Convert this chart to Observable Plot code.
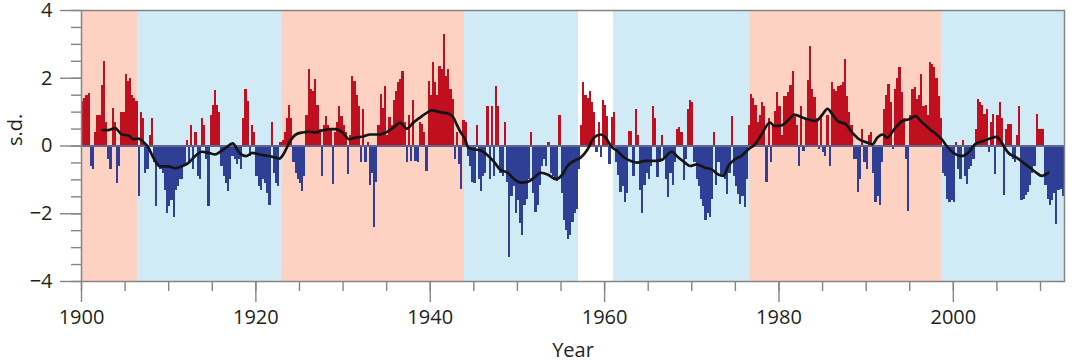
<!DOCTYPE html>
<html>
<head>
<meta charset="utf-8">
<script src="https://cdn.jsdelivr.net/npm/d3@7"></script>
<script src="https://cdn.jsdelivr.net/npm/@observablehq/plot@0.6"></script>
<style>
  html, body { margin: 0; padding: 0; background: #fff; }
</style>
</head>
<body>
<div id="chart"></div>
<script>
// Quarterly index values (s.d.), each chunk starts at the given year, step 0.25 yr
const pdo1900 = [
  1.3, 1.4, 1.5, 1.55,   -0.6, -0.7, 0.4, 0.9,   0.9, 1.8, 2.5, 0.7,   -0.4, -0.7, 1.1, 0.7,
  -1.1, -0.6, 1.0, 1.0,  2.1, 1.9, 2.0, 1.5,     1.4, 1.3, -1.5, 1.0,  0.8, -0.8, -0.7, 0.3,
  0.8, -0.5, -1.8, -0.6, -0.7, -0.8, -1.3, -2.0, -1.8, -1.6, -2.1, -1.3, -1.2, -1.0, -1.0, -0.6,
  0.15, -0.5, 0.6, -0.7, 0.4, -0.9, -1.0, 0.8,   0.6, -0.4, -1.8, 0.9,  1.2, 1.65, 1.2, 1.0
];
const pdo1916 = [
  -0.6, -0.9, -1.1, -1.35, -1.0, -0.3, -0.4, -0.55, -0.4, -0.7, 0.8, 1.67, 1.3, -0.3, 0.6, 0.4,
  -0.9, -1.2, -1.3, -1.0,  -1.1, -1.4, -1.75, 0.7,  -0.8, -1.1, -1.2, 0.1,  0.15, 0.4, 0.8, 1.2,
  0.8, -0.5, -0.8, -1.0,   -1.1, -1.35, -0.9, 0.9,  2.25, 1.67, 1.6, 1.95,  1.2, 0.5, -0.9, 0.6,
  0.88, 0.6, 0.5, -1.13,   0.4, 0.7, 1.18, 0.88,    0.6, 0.4, -0.84, 0.3,   2.06, 1.9, 1.5, 1.18
];
const pdo1932 = [
  -0.5, 1.08, -0.5, 0.1,   -1.18, -0.8, -2.41, -1.08, 0.6, 1.52, 1.1, 1.77, 0.3, 0.84, 0.6, 1.33,
  1.6, 1.87, 1.97, 2.2,    0.7, -0.5, 0.9, -0.45,    1.33, -0.45, -0.5, 0.7, 0.64, 0.4, -0.74, 1.9,
  1.5, 2.46, 1.87, 1.5,    2.36, 2.26, 3.29, 2.06,   2.26, 1.67, 1.38, -0.4, 0.4, -0.55, -1.28, 0.74,
  0.7, -0.3, -0.6, -1.08,  -1.1, 0.6, -1.0, -1.33,   -0.9, -0.8, 1.18, -1.0, 1.18, -0.9, 1.77, 1.18
];
const pdo1948 = [
  -0.8, -0.9, 0.7, -1.08,  -3.3, -1.5, -1.2, -2.0,   -1.6, -2.3, -2.65, -1.77, -1.57, -1.0, 0.4, -1.4,
  -1.97, -1.77, -1.18, -0.6, -0.4, -0.6, 0.1, -0.8,  -0.9, -1.0, -1.05, 0.9,  -1.4, -2.2, -2.5, -2.75,
  -2.65, -2.26, -2.0, -1.87, -0.7, 0.6, 1.87, 1.5,   1.4, 1.62, 1.28, 1.0,    -0.2, 0.7, -0.35, 1.33,
  1.2, 0.88, -0.55, 0.84,  1.0, -0.5, -0.88, -1.38,  -1.2, -1.67, -1.4, 0.44, 0.44, -0.9, 1.08, 0.3
];
const pdo1964 = [
  -1.3, -2.0, -1.18, -0.8, -1.0, -0.6, 1.18, 0.8,   -0.94, -0.5, 0.3, -0.4,  -1.0, -1.52, -0.8, -1.18,
  -0.5, 0.5, 0.54, 0.4,    -1.03, -0.4, 1.08, 1.33,  1.28, -0.5, -1.0, -1.2,  -1.57, -1.8, -2.2, -2.0,
  -2.1, -1.57, 0.4, -1.18, -0.5, -0.84, -0.9, -1.0,  -1.43, -0.8, 0.88, -0.9, -1.2, -1.43, -1.72, -1.5,
  -1.82, -1.0, 0.6, 1.52,  1.4, 1.2, 0.7, 0.9,       1.28, 1.18, -1.08, 0.8,  -0.5, 0.6, 1.03, 1.57
];
const pdo1980 = [
  1.18, 0.3, 1.47, 1.47,   1.57, 1.8, 2.2, 0.88,     0.6, -0.6, 1.18, -0.15,  0.8, 1.92, 2.95, 1.67,
  1.43, 0.8, -0.1, 0.84,   -0.2, -0.3, 0.9, -0.6,    1.87, 1.67, 1.6, 1.77,   1.8, 1.87, 2.56, 1.47,
  1.0, 0.6, -0.4, -0.4,    -1.38, -1.0, 0.5, -0.5,   -0.7, 0.3, 0.4, -0.8,    -1.67, -1.5, -1.77, -0.5,
  1.08, 1.5, 1.82, 1.28,   -0.1, 1.67, 2.0, 2.31,    1.57, 0.8, -0.4, -1.92,  0.9, 1.67, 1.72, 1.38
];
const pdo1996 = [
  1.5, 2.1, 1.18, 1.2,     0.9, 2.46, 2.4, 2.31,     2.0, 1.47, 0.8, -0.8,    -0.9, -1.57, -1.67, -1.6,
  -1.67, 0.1, -0.7, -1.0,  0.15, -0.9, -1.13, -0.7,  -0.6, -0.4, 0.5, 1.38,   1.28, 1.2, 0.93, 1.08,
  -0.2, 0.7, 0.93, -0.84,  0.9, 1.28, 0.8, -1.47,    0.5, 0.64, 0.64, -0.4,   -0.5, 0.3, 1.18, -1.62,
  -1.57, -1.45, -1.38, -1.18, -0.8, -0.6, 0.93, 0.5, 0.5, 0.5, -1.18, -1.57,  -1.77, -1.6, -1.4, -2.31,
  -1.3, -1.28, -1.5
];
const chunkStarts = [1900, 1916, 1932, 1948, 1964, 1980, 1996];
const chunks = [pdo1900, pdo1916, pdo1932, pdo1948, pdo1964, pdo1980, pdo1996];
const step = 0.25;

// Smoothed (running mean) line
const smoothYears = [
  1902.4, 1903.1, 1903.86, 1904.62, 1905.39, 1905.96, 1906.53, 1907.1, 1907.68, 1908.25, 1909.0, 1909.97,
  1910.73, 1911.5, 1912.26, 1913.02, 1913.79, 1914.55, 1915.3, 1916.0, 1916.57, 1917.34, 1918.1, 1918.86,
  1919.63, 1920.39, 1921.16, 1921.92, 1922.68, 1923.26, 1923.83, 1924.59, 1925.36, 1926.12, 1926.88, 1927.65,
  1928.41, 1929.17, 1929.94, 1930.7, 1931.46, 1932.3, 1933.1, 1934.25, 1935.0, 1935.78, 1936.54, 1937.3,
  1938.07, 1938.83, 1939.6, 1940.17, 1941.12, 1942.08, 1942.65, 1943.03, 1943.41, 1943.99, 1944.37, 1944.94,
  1945.7, 1946.47, 1947.23, 1948.0, 1948.87, 1949.64, 1950.4, 1951.16, 1951.93, 1952.69, 1953.46, 1954.41,
  1955.17, 1955.75, 1956.51, 1957.27, 1958.04, 1958.8, 1959.56, 1960.14, 1960.71, 1961.47, 1962.24, 1963.0,
  1963.76, 1964.6, 1965.79, 1966.55, 1967.7, 1968.46, 1969.22, 1969.8, 1970.56, 1971.51, 1972.28, 1973.04,
  1973.61, 1974.19, 1974.95, 1975.71, 1976.48, 1977.24, 1978.0, 1978.96, 1979.53, 1980.3, 1981.17, 1981.75,
  1982.7, 1984.23, 1984.99, 1985.56, 1986.14, 1986.71, 1987.66, 1988.43, 1989.19, 1990.15, 1990.72, 1991.29,
  1991.86, 1992.44, 1993.2, 1994.16, 1994.92, 1995.68, 1996.26, 1996.9, 1997.32, 1998.09, 1998.66, 1999.23,
  1999.99, 2000.95, 2001.71, 2002.48, 2003.43, 2004.2, 2004.96, 2005.53, 2006.3, 2007.25, 2008.01, 2008.78,
  2009.54, 2010.11, 2010.88
];
const smoothValues = [
  0.47, 0.47, 0.53, 0.34, 0.31, 0.2, 0.22, 0.12, -0.05, -0.35, -0.6, -0.6,
  -0.66, -0.6, -0.5, -0.3, -0.17, -0.2, -0.25, -0.15, -0.05, 0.08, -0.2, -0.3,
  -0.2, -0.25, -0.28, -0.32, -0.37, -0.2, 0.1, 0.34, 0.4, 0.42, 0.4, 0.46,
  0.5, 0.5, 0.4, 0.2, 0.25, 0.28, 0.34, 0.34, 0.41, 0.54, 0.69, 0.51,
  0.69, 0.84, 0.98, 1.05, 1.0, 0.96, 0.84, 0.64, 0.44, 0.2, -0.05, -0.1,
  -0.12, -0.25, -0.44, -0.69, -0.79, -0.98, -1.08, -1.06, -0.93, -0.79, -0.84, -0.98,
  -0.84, -0.59, -0.44, -0.34, -0.1, 0.25, 0.34, 0.25, 0.0, -0.15, -0.34, -0.44,
  -0.49, -0.44, -0.44, -0.41, -0.17, -0.34, -0.49, -0.59, -0.54, -0.64, -0.69, -0.84,
  -0.88, -0.59, -0.39, -0.29, -0.1, 0.05, 0.34, 0.69, 0.59, 0.61, 0.79, 0.93,
  0.84, 0.74, 0.93, 1.1, 0.93, 0.74, 0.64, 0.39, 0.2, 0.1, 0.05, 0.25,
  0.34, 0.25, 0.49, 0.74, 0.79, 0.88, 0.74, 0.59, 0.49, 0.34, 0.2, 0.0,
  -0.2, -0.3, -0.2, 0.05, 0.15, 0.22, 0.27, 0.1, -0.2, -0.34, -0.49, -0.64,
  -0.79, -0.88, -0.79
];

// Background phases
const phaseStart = [1900, 1906.4, 1923.0, 1943.9, 1961.05, 1976.6, 1998.6];
const phaseEnd   = [1906.4, 1923.0, 1943.9, 1957.0, 1976.6, 1998.6, 2012.75];
const phaseType  = ["warm", "cool", "warm", "cool", "cool", "warm", "cool"];

const xDomain = [1900, 2012.75];
const yDomain = [-4, 4];
const xMajorTicks = [1900, 1920, 1940, 1960, 1980, 2000];
const xMinorTicks = [1900, 1905, 1910, 1915, 1920, 1925, 1930, 1935, 1940, 1945, 1950, 1955, 1960, 1965, 1970, 1975, 1980, 1985, 1990, 1995, 2000, 2005, 2010];
const yMajorTicks = [-4, -2, 0, 2, 4];
const yMinorTicks = [-4, -3.5, -3, -2.5, -2, -1.5, -1, -0.5, 0, 0.5, 1, 1.5, 2, 2.5, 3, 3.5, 4];

// Build tables
const bars = [];
chunks.forEach((arr, i) => {
  arr.forEach((v, j) => {
    const t0 = chunkStarts[i] + j * step;
    bars.push({t0, t1: t0 + step, v});
  });
});
const smooth = smoothYears.map((t, i) => ({t, v: smoothValues[i]}));
const phases = phaseStart.map((s, i) => ({start: s, end: phaseEnd[i], type: phaseType[i]}));

const RED_BG = "#fdd2c2", BLUE_BG = "#d0ebf6";
const RED = "#c0101f", BLUE = "#2e3f95";
const AXIS = "#858585";

const chart = Plot.plot({
  width: 1086,
  height: 364,
  marginLeft: 81,
  marginRight: 22,
  marginTop: 10,
  marginBottom: 83,
  style: {fontFamily: "'Open Sans', sans-serif", fontSize: "20px", color: "#231f20", background: "#fff", overflow: "visible"},
  x: {domain: xDomain, label: null},
  y: {domain: yDomain, label: null},
  marks: [
    Plot.rect(phases, {x1: "start", x2: "end", fill: d => d.type === "warm" ? RED_BG : BLUE_BG, shapeRendering: "crispEdges"}),
    Plot.rect(bars, {x1: "t0", x2: "t1", y1: 0, y2: "v", fill: d => d.v >= 0 ? RED : BLUE, shapeRendering: "crispEdges"}),
    Plot.ruleY([0], {stroke: "#5f6690", strokeWidth: 2}),
    Plot.line(smooth, {x: "t", y: "v", stroke: "#151515", strokeWidth: 2.7, curve: "monotone-x"}),
    Plot.frame({stroke: AXIS, strokeWidth: 1.5}),
    Plot.axisX(xMinorTicks, {tickSize: 10, tickFormat: () => "", stroke: AXIS, strokeWidth: 1.4, label: null}),
    Plot.axisX(xMajorTicks, {tickSize: 21, tickPadding: 7, tickFormat: d => String(d), stroke: AXIS, strokeWidth: 1.4, fontSize: 20, label: null}),
    Plot.axisY(yMinorTicks, {tickSize: 10, tickFormat: () => "", stroke: AXIS, strokeWidth: 1.4, label: null}),
    Plot.axisY(yMajorTicks, {tickSize: 21, tickPadding: 8, tickFormat: d => d < 0 ? "\u2212" + Math.abs(d) : String(d), stroke: AXIS, strokeWidth: 1.4, fontSize: 20, label: null}),
    Plot.text(["s.d."], {frameAnchor: "left", dx: -66, rotate: -90, fontSize: 20, fill: "#231f20"}),
    Plot.text(["Year"], {frameAnchor: "bottom", dy: 69, lineAnchor: "middle", fontSize: 20, fill: "#231f20"})
  ]
});
document.getElementById("chart").appendChild(chart);
</script>
</body>
</html>
